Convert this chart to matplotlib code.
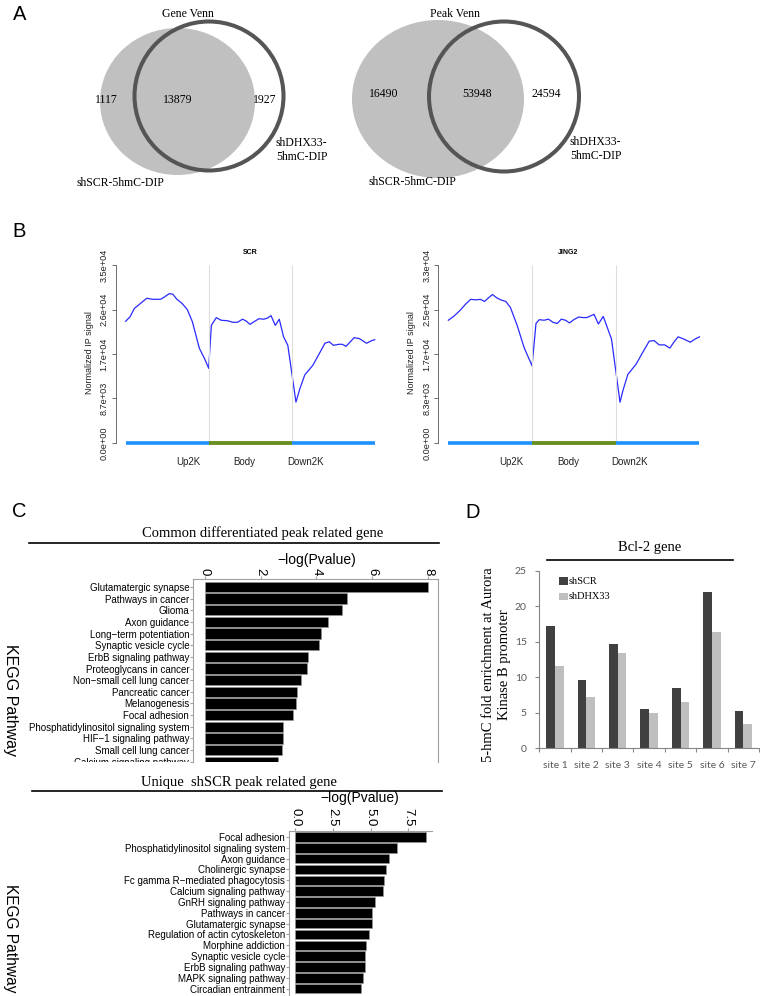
import numpy as np
import matplotlib
matplotlib.use('Agg')
import matplotlib.pyplot as plt
from matplotlib.patches import Ellipse, Circle, Rectangle
from matplotlib.transforms import Bbox, TransformedBbox

SANS = 'Liberation Sans'
SERIF = 'Liberation Serif'
CAL = 'Lato'

# ---- data ----
gene_venn = [1117, 13879, 1927]
peak_venn = [16490, 53948, 24594]
venn_names = ['shSCR-5hmC-DIP', 'shDHX33-\n5hmC-DIP']

# metagene profiles (signal in thousands, position 0-1 Up2K, 1-2 Body, 2-3 Down2K)
scr_pos = [0.000, 0.054, 0.104, 0.179, 0.254, 0.325, 0.421, 0.471, 0.525, 0.567, 0.617, 0.679, 0.742, 0.804, 0.888, 0.950, 1.000,
           1.032, 1.091, 1.150, 1.229, 1.289, 1.348, 1.407, 1.447, 1.498, 1.545, 1.605, 1.664, 1.704, 1.751, 1.802, 1.850, 1.901, 1.953,
           2.051, 2.098, 2.157, 2.255, 2.333, 2.400, 2.451, 2.502, 2.569, 2.608, 2.655, 2.706, 2.753, 2.816, 2.902, 2.961, 3.000]
scr_sig = [23.8, 24.7, 26.3, 27.3, 28.3, 28.1, 28.1, 28.6, 29.2, 29.1, 28.1, 27.3, 26.1, 23.7, 18.5, 16.5, 14.6,
           23.0, 24.5, 24.0, 23.9, 23.6, 23.6, 24.2, 23.9, 23.2, 23.7, 24.3, 24.2, 24.4, 24.9, 23.0, 24.2, 20.8, 19.1,
           8.0, 10.6, 13.3, 15.2, 17.5, 19.5, 19.8, 19.1, 19.3, 19.3, 18.9, 19.8, 20.6, 20.4, 19.5, 20.0, 20.2]
jing_pos = [0.000, 0.070, 0.144, 0.206, 0.267, 0.329, 0.383, 0.432, 0.481, 0.527, 0.576, 0.626, 0.687, 0.741, 0.823, 0.905, 1.000,
            1.047, 1.086, 1.145, 1.196, 1.251, 1.302, 1.349, 1.400, 1.447, 1.498, 1.557, 1.604, 1.655, 1.741, 1.792, 1.851, 1.949,
            2.051, 2.086, 2.145, 2.243, 2.322, 2.400, 2.459, 2.518, 2.584, 2.647, 2.694, 2.745, 2.812, 2.890, 2.949, 3.000]
jing_sig = [22.9, 23.7, 24.8, 25.9, 26.8, 26.7, 26.8, 26.4, 27.1, 27.7, 27.1, 26.7, 26.4, 25.3, 21.9, 17.8, 14.4,
            22.3, 23.0, 22.9, 23.1, 22.5, 22.3, 23.1, 22.9, 22.4, 23.0, 23.5, 23.4, 23.4, 24.0, 22.2, 23.6, 19.4,
            7.6, 9.8, 12.8, 14.7, 16.9, 19.0, 19.1, 18.3, 18.3, 17.7, 18.8, 19.8, 19.4, 18.8, 19.4, 19.8]
scr_ymax, jing_ymax = 34800, 33200
scr_yticklabels = ['0.0e+00', '8.7e+03', '1.7e+04', '2.6e+04', '3.5e+04']
jing_yticklabels = ['0.0e+00', '8.3e+03', '1.7e+04', '2.5e+04', '3.3e+04']
region_labels = ['Up2K', 'Body', 'Down2K']
region_label_pos = [0.75, 1.43, 2.17]

common_terms = ['Glutamatergic synapse', 'Pathways in cancer', 'Glioma', 'Axon guidance',
                'Long\u2212term potentiation', 'Synaptic vesicle cycle', 'ErbB signaling pathway',
                'Proteoglycans in cancer', 'Non\u2212small cell lung cancer', 'Pancreatic cancer',
                'Melanogenesis', 'Focal adhesion', 'Phosphatidylinositol signaling system',
                'HIF\u22121 signaling pathway', 'Small cell lung cancer', 'Calcium signaling pathway']
common_vals = [7.99, 5.08, 4.90, 4.42, 4.15, 4.10, 3.68, 3.65, 3.46, 3.30, 3.25, 3.16, 2.81, 2.79, 2.75, 2.63]

unique_terms = ['Focal adhesion', 'Phosphatidylinositol signaling system', 'Axon guidance',
                'Cholinergic synapse', 'Fc gamma R\u2212mediated phagocytosis', 'Calcium signaling pathway',
                'GnRH signaling pathway', 'Pathways in cancer', 'Glutamatergic synapse',
                'Regulation of actin cytoskeleton', 'Morphine addiction', 'Synaptic vesicle cycle',
                'ErbB signaling pathway', 'MAPK signaling pathway', 'Circadian entrainment']
unique_vals = [8.65, 6.73, 6.24, 6.02, 5.91, 5.80, 5.32, 5.12, 5.12, 4.87, 4.72, 4.65, 4.63, 4.50, 4.35]

sites = ['site 1', 'site 2', 'site 3', 'site 4', 'site 5', 'site 6', 'site 7']
shSCR = [17.15, 9.67, 14.72, 5.56, 8.46, 22.0, 5.28]
shDHX33 = [11.64, 7.2, 13.41, 4.95, 6.5, 16.4, 3.36]

W, H = 760, 996
fig = plt.figure(figsize=(W / 100, H / 100), dpi=100)


def px_axes(x0, y0, x1, y1):
    a = fig.add_axes([x0 / W, 1 - y1 / H, (x1 - x0) / W, (y1 - y0) / H])
    a.patch.set_visible(False)
    return a


# ---- B: profiles ----
def profile(box, pos, sig, ymax, ytl):
    ax = px_axes(*box)
    ax.plot(pos, np.array(sig) * 1000, color='#2a2aff', lw=0.9)
    ax.vlines([1, 2], 0, ymax, colors='#dddddd', lw=0.8)
    ax.plot([0, 1], [0, 0], color='#1e90ff', lw=2.6, solid_capstyle='butt')
    ax.plot([2, 3], [0, 0], color='#1e90ff', lw=2.6, solid_capstyle='butt')
    ax.plot([1, 2], [0, 0], color='#6b8e23', lw=2.8, solid_capstyle='butt')
    ax.set_xlim(-0.12, 3.12)
    ax.set_ylim(-0.04 * ymax, 1.04 * ymax)
    for s in ['top', 'right', 'bottom']:
        ax.spines[s].set_visible(False)
    ax.spines['left'].set_bounds(0, ymax)
    ax.spines['left'].set_color('#555555')
    ax.spines['left'].set_linewidth(0.6)
    ax.set_yticks(np.linspace(0, ymax, 5), ytl, rotation=90, va='center',
                  fontsize=6.6, family=SANS, color='#222222')
    ax.tick_params(axis='y', length=3, width=0.6, color='#555555', pad=2)
    ax.set_xticks(region_label_pos, region_labels, fontsize=7, family=SANS, color='#222222')
    ax.tick_params(axis='x', length=0, pad=5)
    return ax


profile((115.7, 257.9, 384.7, 450.1), scr_pos, scr_sig, scr_ymax, scr_yticklabels)
profile((438.3, 257.9, 709.5, 450.1), jing_pos, jing_sig, jing_ymax, jing_yticklabels)

# ---- C: KEGG bar charts ----
clip = TransformedBbox(Bbox.from_extents(0, 1 - 762 / H, 1, 1), fig.transFigure)

ax1 = px_axes(193.3, 579.3, 438.3, 762)
ax1.barh(range(len(common_vals)), common_vals, height=0.9, color='black', edgecolor='#999999', lw=0.4)
ax1.set_xlim(-0.408, 8.358)
ax1.set_ylim(15.02, -0.656)
ax1.spines['bottom'].set_visible(False)
for s in ['left', 'top', 'right']:
    ax1.spines[s].set_color('#a0a0a0')
    ax1.spines[s].set_linewidth(0.8)
ax1.set_yticks(range(len(common_terms)), common_terms, fontsize=7, family=SANS)
ax1.xaxis.tick_top()
ax1.set_xticks([0, 2, 4, 6, 8], ['0', '2', '4', '6', '8'], rotation=-90, fontsize=9.5, family=SANS)
ax1.tick_params(axis='x', length=2, pad=1, color='#a0a0a0')
ax1.tick_params(axis='y', length=2, pad=1, color='#a0a0a0')
for lab in ax1.get_yticklabels():
    lab.set_clip_on(True)
    lab.set_clip_box(clip)

ax2 = px_axes(289.3, 830.7, 432, 996)
ax2.barh(range(len(unique_vals)), unique_vals, height=0.88, color='black', edgecolor='#999999', lw=0.4)
ax2.set_xlim(-0.377, 9.06)
ax2.set_ylim(14.68, -0.58)
ax2.spines['bottom'].set_visible(False)
ax2.spines['right'].set_visible(False)
for s in ['left', 'top']:
    ax2.spines[s].set_color('#a0a0a0')
    ax2.spines[s].set_linewidth(0.8)
ax2.set_yticks(range(len(unique_terms)), unique_terms, fontsize=7, family=SANS)
ax2.xaxis.tick_top()
ax2.set_xticks([0, 2.5, 5, 7.5], ['0.0', '2.5', '5.0', '7.5'], rotation=-90, fontsize=9.5, family=SANS)
ax2.tick_params(axis='x', length=2, pad=1, color='#a0a0a0')
ax2.tick_params(axis='y', length=2, pad=1, color='#a0a0a0')

# ---- D: grouped bars ----
axd = px_axes(539.3, 570.7, 759, 748.3)
x = np.arange(len(sites)) + 0.5
axd.bar(x - 0.138, shSCR, width=0.276, color='#404040')
axd.bar(x + 0.138, shDHX33, width=0.276, color='#bfbfbf')
axd.set_xlim(0, 7)
axd.set_ylim(0, 25)
axd.spines['top'].set_visible(False)
axd.spines['right'].set_visible(False)
for s in ['left', 'bottom']:
    axd.spines[s].set_color('#868686')
    axd.spines[s].set_linewidth(0.8)
axd.set_yticks(range(0, 30, 5), [str(v) for v in range(0, 30, 5)], fontsize=7.5, family=CAL, color='#595959')
axd.tick_params(axis='y', length=3, width=0.8, color='#868686', pad=6)
axd.set_xticks(x, sites, fontsize=7.5, family=CAL, color='#595959')
axd.set_xticks(range(8), minor=True)
axd.tick_params(axis='x', which='major', length=0, pad=9)
axd.tick_params(axis='x', which='minor', length=3, width=0.8, color='#868686')

# ---- overlay: Venn diagrams, titles, panel letters ----
ov = fig.add_axes([0, 0, 1, 1])
ov.set_xlim(0, W)
ov.set_ylim(H, 0)
ov.axis('off')
ov.set_zorder(10)


def txt(xx, yy, s, **kw):
    kw.setdefault('ha', 'center')
    kw.setdefault('va', 'center')
    ov.text(xx, yy, s, **kw)


for letter, (lx, ly) in zip('ABCD', [(20, 14), (19, 231), (19, 511), (473, 512)]):
    txt(lx, ly, letter, fontsize=14.5, family=SANS)

# Venns
ov.add_patch(Ellipse((177.5, 101.5), 155, 147, color='#c0c0c0', lw=0))
ov.add_patch(Circle((209, 96), 74.5, fill=False, ec='#555555', lw=2.9))
ov.add_patch(Ellipse((438, 99), 172, 158, color='#c0c0c0', lw=0))
ov.add_patch(Circle((504, 96.5), 75, fill=False, ec='#555555', lw=2.9))

vs = dict(fontsize=8.5, family=SERIF)
txt(188, 14, 'Gene Venn', **vs)
for xx, v in zip([106, 178, 265], gene_venn):
    txt(xx, 100, str(v), **vs)
txt(120, 183, venn_names[0], **vs)
txt(276, 150, venn_names[1], ha='left', linespacing=1.15, **vs)

txt(455, 14, 'Peak Venn', **vs)
for xx, v in zip([384, 477, 546], peak_venn):
    txt(xx, 94, str(v), **vs)
txt(412, 182, venn_names[0], **vs)
txt(570, 149, venn_names[1], ha='left', linespacing=1.15, **vs)

# B titles and y labels
txt(250, 252, 'SCR', fontsize=5, family=SANS, weight='bold')
txt(568, 252, 'JING2', fontsize=5, family=SANS, weight='bold')
txt(89, 353, 'Normalized IP signal', rotation=90, fontsize=6.5, family=SANS, color='#222222')
txt(411, 353, 'Normalized IP signal', rotation=90, fontsize=6.5, family=SANS, color='#222222')

# C titles
txt(263, 533, 'Common differentiated peak related gene', fontsize=10.5, family=SERIF)
ov.plot([29, 439], [543, 543], color='black', lw=1.2)
txt(317, 560, '\u2212log(Pvalue)', fontsize=10, family=SANS)
txt(10, 700, 'KEGG Pathway', rotation=-90, fontsize=11.5, family=SANS)

txt(239, 782, 'Unique  shSCR peak related gene', fontsize=10.5, family=SERIF)
ov.plot([32, 442], [791, 791], color='black', lw=1.2)
txt(360, 798, '\u2212log(Pvalue)', fontsize=10, family=SANS)
txt(10, 938, 'KEGG Pathway', rotation=-90, fontsize=11.2, family=SANS)

# D title, legend, y label
txt(650, 547, 'Bcl-2 gene', fontsize=10.5, family=SERIF)
ov.plot([547, 733], [560, 560], color='black', lw=1.2)
ov.add_patch(Rectangle((559.3, 577.3), 8.7, 7.7, color='#404040', lw=0))
ov.add_patch(Rectangle((559.3, 592.7), 8.7, 7.7, color='#bfbfbf', lw=0))
txt(569, 581, 'shSCR', ha='left', fontsize=7.5, family=SERIF)
txt(569, 596.5, 'shDHX33', ha='left', fontsize=7.5, family=SERIF)
txt(496.5, 665, '5-hmC fold enrichment at Aurora\nKinase B promoter', rotation=90,
    fontsize=10.5, family=SERIF, linespacing=1.25)

fig.savefig('out.png', dpi=100)
